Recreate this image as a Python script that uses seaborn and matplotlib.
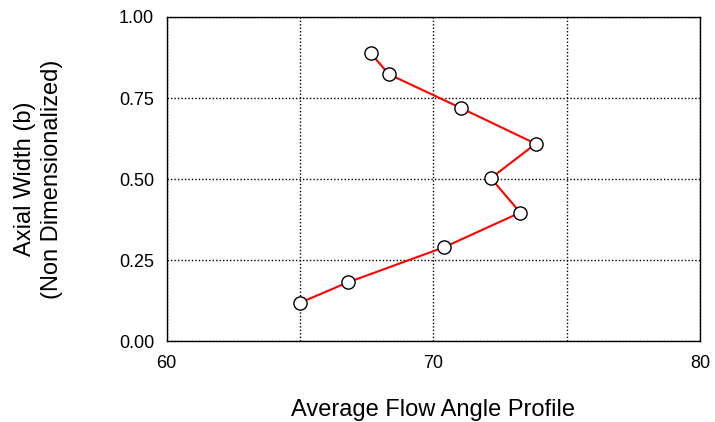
import numpy as np
import pandas as pd
import matplotlib.pyplot as plt
import seaborn as sns

# flow angle profile along axial width
flow_angle = [65.0, 66.8, 70.4, 73.26, 72.16, 73.84, 71.04, 68.34, 67.65]
axial_width = [0.119, 0.182, 0.290, 0.397, 0.503, 0.609, 0.719, 0.823, 0.888]
x_ticks = [60, 65, 70, 75, 80]
x_tick_labels = ["60", "", "70", "", "80"]
y_ticks = [0.0, 0.25, 0.5, 0.75, 1.0]
y_tick_labels = ["0.00", "0.25", "0.50", "0.75", "1.00"]

df = pd.DataFrame({"FlowAngle": flow_angle, "AxialWidth": axial_width})

sns.set_style("white")
plt.rcParams["font.family"] = ["Liberation Sans", "DejaVu Sans"]
plt.rcParams["text.color"] = "black"
plt.rcParams["axes.labelcolor"] = "black"

fig = plt.figure(figsize=(7.15, 4.22), dpi=100)
ax = fig.add_axes([0.233, 0.191, 0.746, 0.769])

sns.lineplot(data=df, x="FlowAngle", y="AxialWidth", sort=False, color="red", linewidth=1.5,
             marker="o", markersize=9.5, markerfacecolor="white", markeredgecolor="black",
             markeredgewidth=1.0, ax=ax)

ax.set_xlim(60, 80)
ax.set_ylim(0, 1)
ax.set_xticks(x_ticks)
ax.set_xticklabels(x_tick_labels, fontsize=13)
ax.set_yticks(y_ticks)
ax.set_yticklabels(y_tick_labels, fontsize=13)
ax.tick_params(direction="in", length=5, width=1, colors="black")
ax.tick_params(axis="x", pad=10)
ax.tick_params(axis="y", pad=9)
ax.grid(True, linestyle=(0, (1, 1.5)), color="black", linewidth=1)
for s in ax.spines.values():
    s.set_color("black")
    s.set_linewidth(1)

ax.set_xlabel("Average Flow Angle Profile", fontsize=17, labelpad=19, color="black")
ax.set_ylabel("Axial Width (b)\n(Non Dimensionalized)", fontsize=17, labelpad=40, linespacing=1.3,
              color="black")

plt.savefig("out.png", dpi=100)
